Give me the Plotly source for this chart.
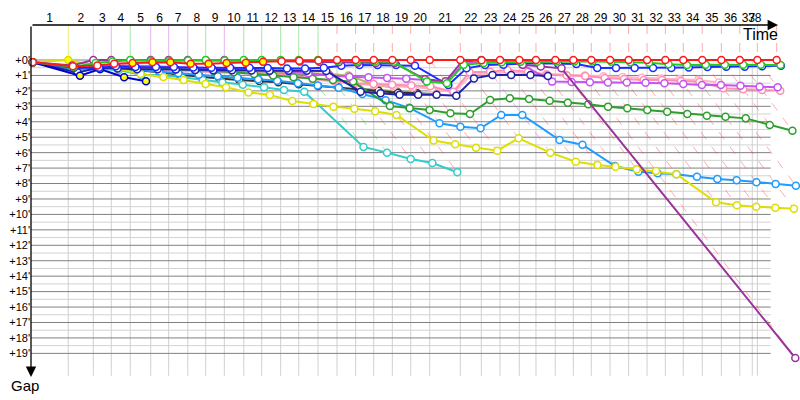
import plotly.graph_objects as go

# ---------------- data ----------------
# leader's cumulative race time (minutes) at the end of laps 0..38
LEADER_T = [0, 3.24, 5.42, 6.98, 8.63, 10.41, 11.97, 13.63, 15.19, 16.81, 18.50,
            20.06, 21.71, 23.28, 24.96, 26.61, 28.23, 29.80, 31.42, 33.02, 34.67,
            37.33, 39.16, 40.78, 42.46, 43.91, 45.59, 47.16, 48.72, 50.35, 51.97,
            53.57, 55.16, 56.72, 58.37, 60.03, 61.63, 63.16, 64.84]
LAPS = list(range(1, 39))
LAP_LEADER = (["yellow", "purple", "purple", "green", "purple", "purple", "purple",
               "green", "purple", "green", "green", "green", "green", "green"]
              + ["red"] * 7 + ["purple"] + ["red"] * 16)
GRID_EXTRA_T = 62.72
GRID_END_T = 64.32
GAP_TICKS = list(range(0, 20))
GAP_LABELS = ["+%d'" % g for g in GAP_TICKS]

# gaps to leader (minutes), index = lap number (0 = start)
red_gaps = [0.15, 0.4, 0.35, 0.25, 0.2, 0.15, 0.15, 0.25, 0.25, 0.2, 0.18, 0.12, 0.08, 0.05, 0.03,
            0, 0, 0, 0, 0, 0, 0, 0.02, 0, 0, 0, 0, 0, 0, 0, 0, 0, 0, 0, 0, 0, 0, 0, 0]
green_gaps = [0.15, 0.45, 0.2, 0.1, 0, 0.05, 0.05, 0.03, 0, 0.03, 0, 0, 0, 0, 0, 0.05, 0.1, 0.1,
              0.12, 1.4, 1.5, 0.3, 0.2, 0.15, 0.12, 0.12, 0.1, 0.1, 0.1, 0.12, 0.14, 0.17, 0.28,
              0.32, 0.3, 0.3, 0.3, 0.3, 0.33]
blue_gaps = [0.15, 0.5, 0.5, 0.4, 0.45, 0.45, 0.45, 0.48, 0.5, 0.5, 0.5, 0.52, 0.55, 0.55, 0.5,
             0.37, 0.33, 0.33, 0.33, 0.37, 1.62, 0.54, 0.32, 0.3, 0.25, 0.21, 0.26, 0.26, 0.52,
             0.52, 0.52, 0.52, 0.52, 0.48, 0.45, 0.43, 0.43, 0.41, 0.37]
navy_gaps = [0.15, 0.8, 0.5, 0.55, 0.6, 0.6, 0.62, 0.64, 0.66, 0.67, 0.68, 0.69, 0.7, 0.7, 0.71,
             2.05, 2.16, 2.25, 2.25, 2.25, 2.31, 1.19, 0.97, 0.97, 0.97, 1.04]
blue2_gaps = [0.15, 1.02, 0.58, 1.12, 1.37]
purple_gaps = [0.15, 0.35, 0, 0, 0.02, 0, 0, 0, 0.02, 0, 0.03, 0.05, 0.08, 0.1, 0.12, 0.15,
               0.18, 0.2, 0.2, 1.25, 1.38, 0.12, 0, 0.05, 0.3, 0.42, 0.54, 19.3]
violet_gaps = [0.15, 0.5, 0.4, 0.35, 0.35, 0.4, 0.45, 0.5, 0.55, 0.6, 0.65, 0.7, 0.75, 0.85, 1.0,
               1.08, 1.12, 1.17, 1.21, 1.3, 1.45, 0.25, 0.1, 0.11, 0.32, 1.4, 1.42, 1.44, 1.45,
               1.46, 1.47, 1.51, 1.56, 1.62, 1.62, 1.66, 1.73, 1.77]
pinka_gaps = [0.15, 0.55, 0.5, 0.5, 0.55, 0.6, 0.65, 0.7, 0.75, 0.8, 0.85, 0.9, 1.0, 1.2, 1.35,
              1.5, 1.55, 1.6, 1.65, 1.7, 2.05, 0.8, 0.76, 0.65, 0.76, 0.95, 1.0, 1.04, 1.17,
              1.23, 1.3, 1.3, 1.36, 1.41, 1.83, 1.9, 1.94, 1.99]
pinkb_gaps = [0.15, 0.6, 0.55, 0.55, 0.6, 0.65, 0.7, 0.75, 0.8, 0.85, 0.9, 0.95, 1.1, 1.25, 1.4,
              1.55, 1.62, 1.7, 1.78, 1.85, 2.1, 0.95, 0.85, 0.8, 0.85, 0.9, 0.95, 1.0, 1.05,
              1.1, 1.15, 1.2, 1.25, 1.3, 1.45]
turquoise_gaps = [0.15, 0.6, 0.6, 0.65, 0.97, 0.97, 1.12, 1.3, 1.45, 1.6, 1.77, 1.94, 2.05,
                  5.63, 6.0, 6.41, 6.67, 7.27]
dodger_gaps = [0.15, 0.6, 0.45, 0.5, 0.65, 0.75, 0.85, 0.95, 1.05, 1.15, 1.25, 1.35, 1.5, 1.65,
               1.8, 2.2, 2.6, 3.1, 4.1, 4.32, 4.42, 3.56, 3.56, 5.18, 5.49, 6.87, 7.23, 7.34,
               7.4, 7.56, 7.71, 7.79, 7.92, 8.03, 8.14]
yellow_gaps = [0.15, 0, 0.4, 0.55, 0.9, 1.1, 1.3, 1.55, 1.77, 2.1, 2.27, 2.66, 2.85, 3.02, 3.15,
               3.32, 3.56, 5.21, 5.46, 5.68, 5.87, 5.07, 6.0, 6.59, 6.8, 6.91, 7.08, 7.19, 7.4,
               9.22, 9.41, 9.5, 9.57, 9.63]
green2_gaps = [0.15, 0.55, 0.3, 0.45, 0.45, 0.5, 0.6, 0.65, 0.7, 0.8, 0.9, 1.0, 1.12, 1.21,
               1.3, 1.4, 2.98, 3.13, 3.24, 3.45, 3.5, 2.59, 2.48, 2.53, 2.64, 2.77, 2.87, 3.02,
               3.13, 3.24, 3.35, 3.5, 3.61, 3.67, 3.78, 4.21, 4.58]
black_gaps = [0.15, 0.5, 0.45, 0.55, 0.7, 0.8, 0.95, 1.05, 1.19, 1.3, 1.36, 1.44, 1.57, 1.68,
              1.77, 1.9, 1.99, 2.12, 2.16]
grey_gaps = [0.15, 0.55, 0.5, 0.55, 0.6, 0.65, 0.7, 0.72, 0.75, 0.78, 0.8, 0.82, 0.85, 0.9,
             0.95, 1.85, 1.95, 2.05, 2.15, 2.22]
khaki_gaps = [0.15, 0.5, 0.45, 0.45, 0.5, 0.55, 0.6, 0.65, 0.7, 0.72, 0.75, 0.78, 0.8, 0.85,
              0.9, 1.0, 1.6, 1.8]

# laps whose marker is filled yellow
red_yellow = [4, 5, 6, 7, 8, 9, 10, 11]
blue2_yellow = [0, 1, 2, 3, 4]
green2_yellow = [2, 3, 4, 5, 6]
yellow_yellow = [0, 1]

# ---------------- styles ----------------
CAR_COLORS = {
    "grey": "#8c8c8c", "khaki": "#b8b46a", "black": "#333333", "pinkb": "#ffb3c8",
    "pinka": "#ff8fb2", "turquoise": "#33cccc", "dodger": "#1e9cff", "yellow": "#dede00",
    "green2": "#2e9e2e", "violet": "#c455f0", "navy": "#2020a8", "blue2": "#0000cc",
    "blue": "#1a2cff", "purple": "#993399", "green": "#22cc22", "red": "#ff1a1a",
}
LEADER_LIGHT = {"yellow": "rgba(225,225,0,0.55)", "purple": "rgba(200,110,220,0.5)",
                "green": "rgba(60,200,60,0.45)", "red": "rgba(255,70,70,0.45)"}

cars = [
    ("grey", grey_gaps, []), ("khaki", khaki_gaps, []), ("black", black_gaps, []),
    ("pinkb", pinkb_gaps, []), ("pinka", pinka_gaps, []), ("turquoise", turquoise_gaps, []),
    ("dodger", dodger_gaps, []), ("yellow", yellow_gaps, yellow_yellow),
    ("green2", green2_gaps, green2_yellow), ("violet", violet_gaps, []),
    ("navy", navy_gaps, []), ("blue2", blue2_gaps, blue2_yellow), ("blue", blue_gaps, []),
    ("purple", purple_gaps, []), ("green", green_gaps, []), ("red", red_gaps, red_yellow),
]

TOP_GAP = -2.267
X_RANGE = [0, 769 / 11.5]
Y_RANGE = [22.02, TOP_GAP]
GRID_BOTTOM = 20.45

fig = go.Figure()


def seg_trace(segs, color, width=1.0, dash="solid"):
    xs, ys = [], []
    for x0, y0, x1, y1 in segs:
        xs += [x0, x1, None]
        ys += [y0, y1, None]
    return go.Scatter(x=xs, y=ys, mode="lines", hoverinfo="skip", showlegend=False,
                      line=dict(color=color, width=width, dash=dash))


# grid
fig.add_trace(seg_trace([(0, g + 0.5, GRID_END_T, g + 0.5) for g in GAP_TICKS[:-1]], "#d2d2d2"))
fig.add_trace(seg_trace([(t, 0, t, GRID_BOTTOM) for t in LEADER_T[1:38] + [GRID_EXTRA_T]], "#d0d0d0"))
fig.add_trace(seg_trace([(0, g, GRID_END_T, g) for g in GAP_TICKS], "#808080"))

# lap lines: vertical above the axis, then diagonal (slope 1 in time units)
groups = {}
for k in LAPS:
    col = LEADER_LIGHT[LAP_LEADER[k - 1]]
    dash = "solid" if k <= 14 else "dash"
    groups.setdefault((col, dash), []).append((LEADER_T[k], TOP_GAP, LEADER_T[k], 0))
    gmax = max(g[k] for _, g, _ in cars if len(g) > k)
    groups.setdefault((col, "dash"), []).append((LEADER_T[k], 0, LEADER_T[k] + gmax, gmax))
for (col, dash), segs in groups.items():
    fig.add_trace(seg_trace(segs, col, 1.0, dash))

# cars
for name, gaps, ylaps in cars:
    xs = [LEADER_T[k] + g for k, g in enumerate(gaps)]
    fills = ["#ffff00" if k in ylaps else "white" for k in range(len(gaps))]
    fig.add_trace(go.Scatter(
        x=xs, y=gaps, mode="lines+markers", hoverinfo="skip", showlegend=False,
        line=dict(color=CAR_COLORS[name], width=2),
        marker=dict(symbol="circle", size=7, color=fills,
                    line=dict(color=CAR_COLORS[name], width=1.5)),
        cliponaxis=False,
    ))

tickvals = [(LEADER_T[k - 1] + LEADER_T[k]) / 2 for k in LAPS[:-1]]
tickvals.append((LEADER_T[37] + GRID_EXTRA_T) / 2)

fig.update_layout(
    width=800, height=400, margin=dict(l=31, r=0, t=25, b=0, autoexpand=False),
    paper_bgcolor="white", plot_bgcolor="white", hovermode=False,
    font=dict(family="Liberation Sans, Arial, sans-serif", color="black"),
    xaxis=dict(range=X_RANGE, side="top", showgrid=False, zeroline=False, showline=False,
               tickmode="array", tickvals=tickvals, ticktext=[str(k) for k in LAPS],
               ticks="", tickfont=dict(size=12), tickangle=0, automargin=False),
    yaxis=dict(range=Y_RANGE, showgrid=False, zeroline=False, showline=False,
               tickmode="array", tickvals=GAP_TICKS, ticktext=GAP_LABELS,
               ticks="", tickfont=dict(size=11), automargin=False),
    annotations=[
        dict(xref="paper", yref="paper", x=(778 - 31) / 769, y=1.0, ax=-747, ay=0,
             text="", showarrow=True, arrowhead=2, arrowsize=1.6, arrowwidth=1.3,
             arrowcolor="black"),
        dict(xref="paper", yref="paper", x=0, y=1 - (377 - 25) / 375, ax=0, ay=-352,
             text="", showarrow=True, arrowhead=2, arrowsize=1.6, arrowwidth=1.3,
             arrowcolor="black"),
        dict(xref="paper", yref="paper", x=(760 - 31) / 769, y=1 - (35 - 25) / 375,
             text="Time", showarrow=False, font=dict(size=16), xanchor="center",
             yanchor="middle"),
        dict(xref="paper", yref="paper", x=(24.5 - 31) / 769, y=1 - (385 - 25) / 375,
             text="Gap", showarrow=False, font=dict(size=15), xanchor="center",
             yanchor="middle"),
    ],
)

fig.write_html("out.html", config={"displayModeBar": False},
               post_script="document.body.style.margin='0';document.body.style.overflow='hidden';")
